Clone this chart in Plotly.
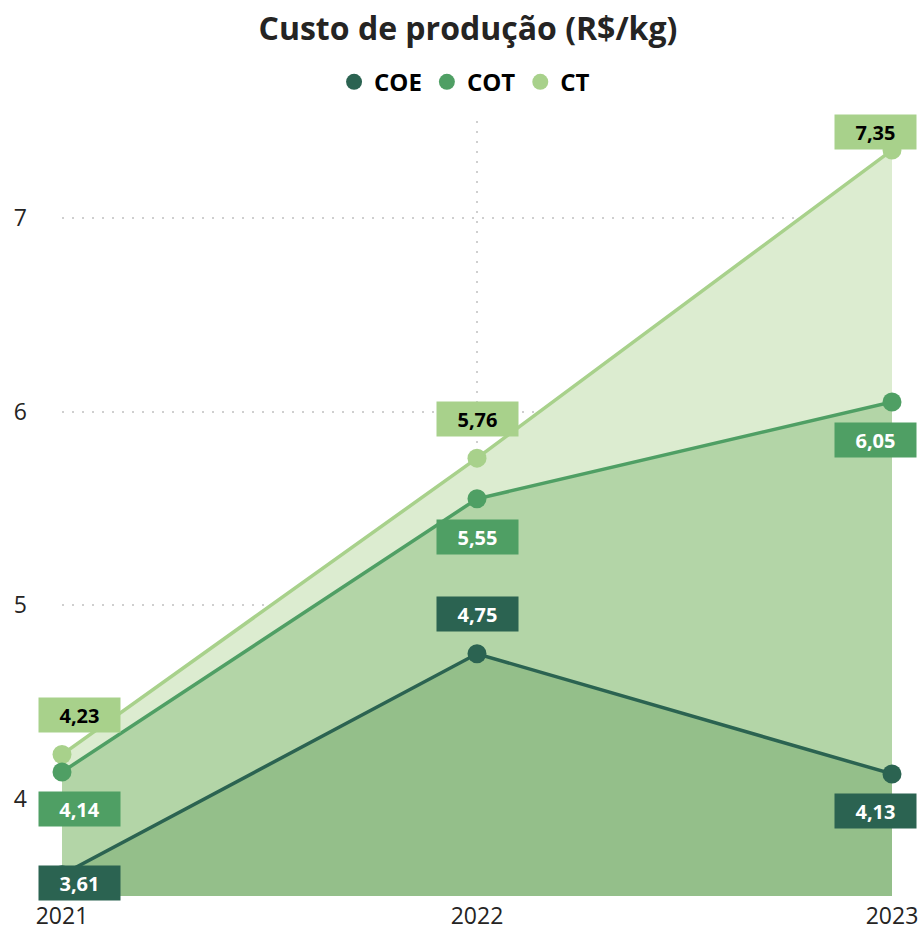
import plotly.graph_objects as go

# Production cost per kg, by year
years = ["2021", "2022", "2023"]
coe = [3.61, 4.75, 4.13]
cot = [4.14, 5.55, 6.05]
ct = [4.23, 5.76, 7.35]

y_ticks = [4, 5, 6, 7]

FONT = "Open Sans"
TEXT_DARK = "#252423"
GRID = "#cfcfcf"

series = [
    # name, values, line colour, fill colour, label text colour, label offsets (dx, dy) in px
    ("CT", ct, "#a8d18b", "#dcecd0", "#000000", [(17, 40), (0, 39), (-17, 18)]),
    ("COT", cot, "#4f9f64", "#b3d5a7", "#ffffff", [(17, -37), (0, -38), (-17, -38)]),
    ("COE", coe, "#2b6351", "#94bf8a", "#ffffff", [(17, -8), (0, 40), (-17, -37)]),
]

fig = go.Figure()

# Areas drawn back to front: widest (CT) at the back, COE in front
for name, vals, line_c, fill_c, _, _ in series:
    fig.add_trace(go.Scatter(
        x=years, y=vals, name=name, mode="lines+markers",
        line=dict(color=line_c, width=3.5),
        marker=dict(color=line_c, size=19),
        fill="tozeroy", fillcolor=fill_c,
        showlegend=False, cliponaxis=False, hoverinfo="x+y+name",
    ))

# Legend entries shown as plain dots
for name, vals, line_c, _, _, _ in reversed(series):
    fig.add_trace(go.Scatter(
        x=[None], y=[None], name=name, mode="markers",
        marker=dict(color=line_c, size=20),
        showlegend=True, hoverinfo="skip",
    ))

# Value labels in coloured boxes
for name, vals, line_c, _, txt_c, offsets in series:
    for i, (v, (dx, dy)) in enumerate(zip(vals, offsets)):
        fig.add_annotation(
            x=i, y=v, xref="x", yref="y",
            text="<b>" + f"{v:.2f}".replace(".", ",") + "</b>",
            showarrow=False, xshift=dx, yshift=dy,
            width=81, height=34, borderpad=0,
            bgcolor=line_c,
            font=dict(family=FONT, size=20, color=txt_c),
        )

fig.update_layout(
    width=923, height=933,
    margin=dict(l=62, r=31, t=121, b=37, autoexpand=False),
    paper_bgcolor="#ffffff", plot_bgcolor="#ffffff",
    title=dict(
        text="<b>Custo de produção (R$/kg)</b>",
        x=0.507, xanchor="center", y=1 - 29 / 933, yanchor="middle",
        xref="container", yref="container",
        font=dict(family=FONT, size=32, color=TEXT_DARK),
    ),
    legend=dict(
        orientation="h", x=0.485, xanchor="center",
        y=1.05, yanchor="middle",
        font=dict(family=FONT, size=24, color="#000000", weight="bold"),
        itemwidth=30, itemclick=False, itemdoubleclick=False,
        bgcolor="rgba(0,0,0,0)",
    ),
    showlegend=True,
    hovermode="closest",
)

fig.update_xaxes(
    type="category", range=[0, 2],
    showgrid=True, gridcolor=GRID, griddash="2px,8px", gridwidth=1.5,
    showline=False, zeroline=False, ticks="",
    ticklabelstandoff=4,
    tickfont=dict(family=FONT, size=23, color=TEXT_DARK),
)
fig.update_yaxes(
    range=[3.5, 7.5], tickvals=y_ticks,
    showgrid=True, gridcolor=GRID, griddash="2px,8px", gridwidth=1.5,
    showline=False, zeroline=False, ticks="",
    ticklabelstandoff=34,
    tickfont=dict(family=FONT, size=23, color=TEXT_DARK),
)

fig.write_html("out.html")
